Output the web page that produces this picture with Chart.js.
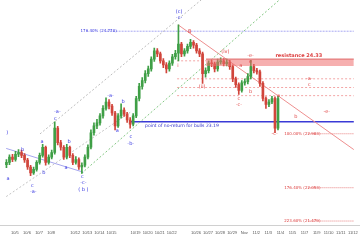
<!DOCTYPE html>
<html>
<head>
<meta charset="utf-8">
<script src="https://cdn.jsdelivr.net/npm/chart.js@4.4.0/dist/chart.umd.min.js"></script>
<style>
  html, body { margin: 0; padding: 0; background: #fff; }
  #wrap { width: 360px; height: 240px; }
</style>
</head>
<body>
<div id="wrap"><canvas id="chart" width="360" height="240"></canvas></div>
<script>
// Sessions: 0 = 10/5, one unit per trading day, 4 bars per day
const firstBar = -0.7;
const barsPerDay = 4;

const opens = [22.45,22.49,22.58,22.54,22.63,22.66,22.61,22.53,22.41,22.31,
  22.37,22.49,22.61,22.75,22.49,22.58,22.66,23.08,22.83,22.75,
  22.58,22.75,22.61,22.49,22.54,22.41,22.44,22.58,22.75,23.00,
  23.12,23.17,23.29,23.42,23.53,23.46,23.34,23.12,23.29,23.39,
  23.32,23.22,23.15,23.29,23.59,23.80,23.90,24.02,24.10,24.27,
  24.41,24.36,24.24,24.17,24.10,24.20,24.31,24.37,24.53,24.36,
  24.41,24.49,24.56,24.51,24.41,24.36,24.02,24.07,24.20,24.19,
  24.10,24.22,24.24,24.19,24.22,24.14,23.93,23.83,23.73,23.86,
  23.88,23.97,24.14,24.07,24.05,23.85,23.59,23.49,23.53,23.59,
  23.08];
const highs = [22.54,22.62,22.63,22.68,22.71,22.70,22.64,22.56,22.44,22.41,
  22.52,22.65,22.80,22.77,22.62,22.70,23.19,23.11,22.87,22.78,
  22.80,22.77,22.64,22.59,22.57,22.48,22.62,22.79,23.05,23.17,
  23.23,23.33,23.47,23.60,23.57,23.49,23.37,23.33,23.50,23.43,
  23.35,23.26,23.33,23.63,23.85,23.95,24.07,24.15,24.31,24.46,
  24.45,24.39,24.28,24.21,24.24,24.35,24.42,24.86,24.56,24.45,
  24.53,24.61,24.59,24.54,24.45,24.39,24.12,24.24,24.25,24.22,
  24.27,24.29,24.28,24.27,24.25,24.17,23.96,23.86,23.90,23.93,
  24.02,24.25,24.18,24.11,24.08,23.88,23.62,23.57,23.63,23.62,
  23.63];
const lows = [22.40,22.45,22.50,22.51,22.59,22.57,22.49,22.37,22.26,22.28,
  22.34,22.46,22.58,22.44,22.46,22.55,22.63,22.79,22.70,22.54,
  22.55,22.57,22.45,22.46,22.37,22.30,22.41,22.55,22.72,22.96,
  23.07,23.13,23.25,23.39,23.41,23.30,23.05,23.09,23.25,23.28,
  23.18,23.08,23.12,23.26,23.55,23.75,23.86,23.97,24.06,24.23,
  24.31,24.20,24.12,24.03,24.06,24.16,24.27,24.24,24.31,24.32,
  24.37,24.45,24.46,24.37,24.31,23.85,23.96,24.03,24.14,24.05,
  24.06,24.18,24.15,24.15,24.09,23.88,23.78,23.66,23.70,23.82,
  23.84,23.93,24.03,24.01,23.80,23.55,23.42,23.45,23.50,23.00,
  23.05];
const closes = [22.49,22.58,22.54,22.63,22.66,22.61,22.53,22.41,22.31,22.37,
  22.49,22.61,22.75,22.49,22.58,22.66,23.08,22.83,22.75,22.58,
  22.75,22.61,22.49,22.54,22.41,22.44,22.58,22.75,23.00,23.12,
  23.17,23.29,23.42,23.53,23.46,23.34,23.12,23.29,23.39,23.32,
  23.22,23.15,23.29,23.59,23.80,23.90,24.02,24.10,24.27,24.41,
  24.36,24.24,24.17,24.10,24.20,24.31,24.37,24.53,24.36,24.41,
  24.49,24.56,24.51,24.41,24.36,24.02,24.07,24.20,24.19,24.10,
  24.22,24.24,24.19,24.22,24.14,23.93,23.83,23.73,23.86,23.88,
  23.97,24.14,24.07,24.05,23.85,23.59,23.49,23.53,23.59,23.08,
  23.59];

const dayLabels = ['10/5','10/6','10/7','10/8','','10/12','10/13','10/14','10/15','',
  '10/19','10/20','10/21','10/22','','10/26','10/27','10/28','10/29','Nov',
  '11/2','11/3','11/4','11/5','11/7','11/9','11/10','11/11','11/12'];

// levels
const noReturn = 23.19;
const resistTop = 24.27, resistBottom = 24.15;
const fibLevels = [22.983, 22.053, 21.479];
const fibTexts = ['100.00% (22.983)', '176.40% (22.053)', '223.60% (21.479)'];
const upperFib = 24.75;
const pinkLevels = [23.93, 23.78, 23.64];

// trend lines [x1, y1, x2, y2] in sessions / price
const grayUpper = [2.08, 22.98, 15.44, 25.29];
const grayLower = [-0.72, 21.90, 9.68, 23.37];
const greenLine = [5.52, 22.30, 21.92, 25.29];
const lavLine = [-0.72, 22.73, 5.68, 22.32];
const redLine = [13.52, 24.86, 28.08, 22.71];

// wave labels: text, session, price
const blueNotes = [
  [')', -0.64, 23.00], ['a', -0.56, 22.20], ['b', 0.64, 22.71], ['c', 1.44, 22.08],
  ['-a-', 1.52, 21.98], ['a', 2.24, 22.85], ['b', 2.40, 22.32], ['c', 3.36, 23.24],
  ['-a-', 3.52, 23.37], ['a', 4.24, 22.39], ['b', 4.48, 22.85], ['c', 5.60, 22.24],
  ['-c-', 5.68, 22.14], ['( b )', 5.68, 22.02], ['-a-', 7.92, 23.64], ['a', 8.48, 23.03],
  ['b', 8.96, 23.53], ['c', 9.60, 22.93], ['-b-', 9.60, 22.81], ['(c)', 13.60, 25.08],
  ['-c-', 13.60, 24.98]
];
const redNotes = [
  ['i', 13.52, 24.15], ['B', 14.48, 24.75], ['(ii)', 15.52, 23.80], ['(iv)', 17.44, 24.39],
  ['a', 18.72, 24.15], ['-e-', 19.52, 24.32], ['e', 19.52, 24.22], ['b', 19.52, 23.71],
  ['c', 18.56, 23.59], ['-c-', 18.56, 23.49], ['a', 21.84, 23.64], ['-c-', 21.52, 22.98],
  ['-a-', 24.40, 23.93], ['c', 24.40, 23.83], ['b', 23.28, 23.27], ['-e-', 25.84, 23.37]
];

const barX = opens.map((_, i) => firstBar + i / barsPerDay);
const candleColors = opens.map((o, i) => closes[i] >= o ? '#3f9f46' : '#d1453b');
const xMax = 28.08;

function seg(p, color, width, dash) {
  return {
    type: 'line',
    data: [{ x: p[0], y: p[1] }, { x: p[2], y: p[3] }],
    borderColor: color, borderWidth: width, borderDash: dash,
    pointRadius: 0, fill: false, order: 2
  };
}
function level(y, x1, x2, color, width, dash) {
  return seg([x1, y, x2, y], color, width, dash);
}

const datasets = [
  {
    type: 'bar', label: 'wicks', order: 1, grouped: false,
    data: barX.map((x, i) => ({ x, y: [lows[i], highs[i]] })),
    backgroundColor: candleColors, barThickness: 1, borderWidth: 0
  },
  {
    type: 'bar', label: 'bodies', order: 0, grouped: false,
    data: barX.map((x, i) => ({ x, y: [opens[i], closes[i]] })),
    backgroundColor: candleColors, barThickness: 2, minBarLength: 1, borderWidth: 0
  },
  seg(grayUpper, '#bdbdbd', 1, [2, 2]),
  seg(grayLower, '#c4c4c4', 1, [2, 2]),
  seg(greenLine, '#86c886', 1, [2, 2]),
  seg(lavLine, '#a5a5ee', 1, []),
  seg(redLine, '#ee8f8f', 1, []),
  level(noReturn, 9.6, xMax, '#3a3ad6', 1.5, []),
  level(upperFib, 7.6, xMax, '#a8a8f2', 1, [2, 1]),
  level(24.24, 13.44, 15.84, '#f3a6a6', 1, [2, 2]),
  ...pinkLevels.map(v => level(v, 13.44, xMax, '#f3a6a6', 1, [2, 2])),
  ...fibLevels.map(v => level(v, 24.32, xMax, '#e88080', 1, [1, 1])),
  {
    type: 'line', order: -1,
    data: [{ x: 15.84, y: resistTop }, { x: xMax, y: resistTop }],
    borderColor: '#e06a6a', borderWidth: 1, pointRadius: 0,
    fill: { value: resistBottom }, backgroundColor: 'rgba(238,110,110,0.55)'
  }
];

const notesPlugin = {
  id: 'notes',
  afterDatasetsDraw(chart) {
    const { ctx, scales: { x, y } } = chart;
    ctx.save();
    ctx.textAlign = 'center';
    ctx.textBaseline = 'middle';
    ctx.font = '5px "DejaVu Sans"';
    ctx.fillStyle = '#3434e0';
    blueNotes.forEach(n => ctx.fillText(n[0], x.getPixelForValue(n[1]), y.getPixelForValue(n[2])));
    ctx.fillStyle = '#e04848';
    redNotes.forEach(n => ctx.fillText(n[0], x.getPixelForValue(n[1]), y.getPixelForValue(n[2])));

    // level captions
    ctx.font = '4.5px "DejaVu Sans"';
    ctx.fillStyle = '#2f2fc8';
    ctx.fillText('point of no-return for bulls 23.19', x.getPixelForValue(13.84), y.getPixelForValue(23.12));
    ctx.font = 'bold 5px "DejaVu Sans"';
    ctx.fillStyle = '#dd4040';
    ctx.fillText('resistance 24.33', x.getPixelForValue(23.52), y.getPixelForValue(24.33));
    ctx.textAlign = 'left';
    ctx.font = '4px "DejaVu Sans"';
    fibLevels.forEach((v, i) => ctx.fillText(fibTexts[i], x.getPixelForValue(22.32), y.getPixelForValue(v)));
    ctx.fillStyle = '#3434e0';
    ctx.fillText('176.40% (24.770)', x.getPixelForValue(5.44), y.getPixelForValue(upperFib));
    ctx.restore();
  }
};

new Chart(document.getElementById('chart').getContext('2d'), {
  type: 'bar',
  data: { datasets },
  options: {
    responsive: false,
    animation: false,
    layout: { padding: 0 },
    plugins: { legend: { display: false }, tooltip: { enabled: false } },
    scales: {
      x: {
        type: 'linear', min: -0.72, max: xMax,
        grid: { display: false, drawTicks: false },
        border: { display: true, color: '#d0d0d0' },
        afterBuildTicks: s => { s.ticks = dayLabels.map((_, i) => ({ value: i })); },
        afterFit: s => { s.paddingLeft = 0; s.paddingRight = 0; },
        ticks: {
          autoSkip: false, maxRotation: 0, padding: 5,
          font: { size: 4, family: 'Liberation Sans' }, color: '#555',
          callback: v => dayLabels[v] ?? ''
        }
      },
      y: { display: false, min: 21.407, max: 25.288 }
    }
  },
  plugins: [notesPlugin]
});
</script>
</body>
</html>
